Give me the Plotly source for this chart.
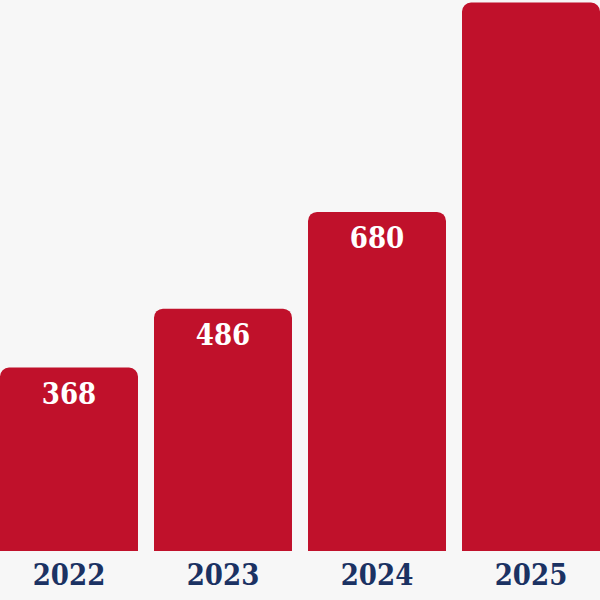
import plotly.graph_objects as go

years = ["2022", "2023", "2024", "2025"]
values = [368, 486, 680, 1100]
label_positions = ["inside", "inside", "inside", "none"]

RED = "#c0112b"
NAVY = "#1b3263"
BG = "#f7f7f7"
FONT = "DejaVu Serif Condensed"

fig = go.Figure(
    go.Bar(
        x=years,
        y=values,
        marker=dict(color=RED, line=dict(width=0), cornerradius=9),
        text=values,
        texttemplate="<b>%{text}</b>",
        textposition=label_positions,
        insidetextanchor="end",
        textfont=dict(family=FONT, size=29, color="white"),
        hoverinfo="skip",
    )
)

fig.update_layout(
    width=600,
    height=600,
    margin=dict(l=0, r=0, t=0, b=49),
    paper_bgcolor=BG,
    plot_bgcolor=BG,
    bargap=0.104,
    showlegend=False,
    xaxis=dict(
        type="category",
        range=[-0.448, 3.448],
        showgrid=False,
        zeroline=False,
        showline=False,
        ticks="",
        tickmode="array",
        tickvals=years,
        ticktext=["<b>%s</b>" % y for y in years],
        tickfont=dict(family=FONT, size=29, color=NAVY),
        ticklabelstandoff=4,
        fixedrange=True,
    ),
    yaxis=dict(
        range=[0, 1105],
        showgrid=False,
        zeroline=False,
        showline=False,
        showticklabels=False,
        ticks="",
        fixedrange=True,
    ),
)

fig.write_html(
    "out.html",
    config={"displayModeBar": False},
    post_script="document.body.style.margin='0';document.body.style.overflow='hidden';document.body.style.background='%s';" % BG,
)
